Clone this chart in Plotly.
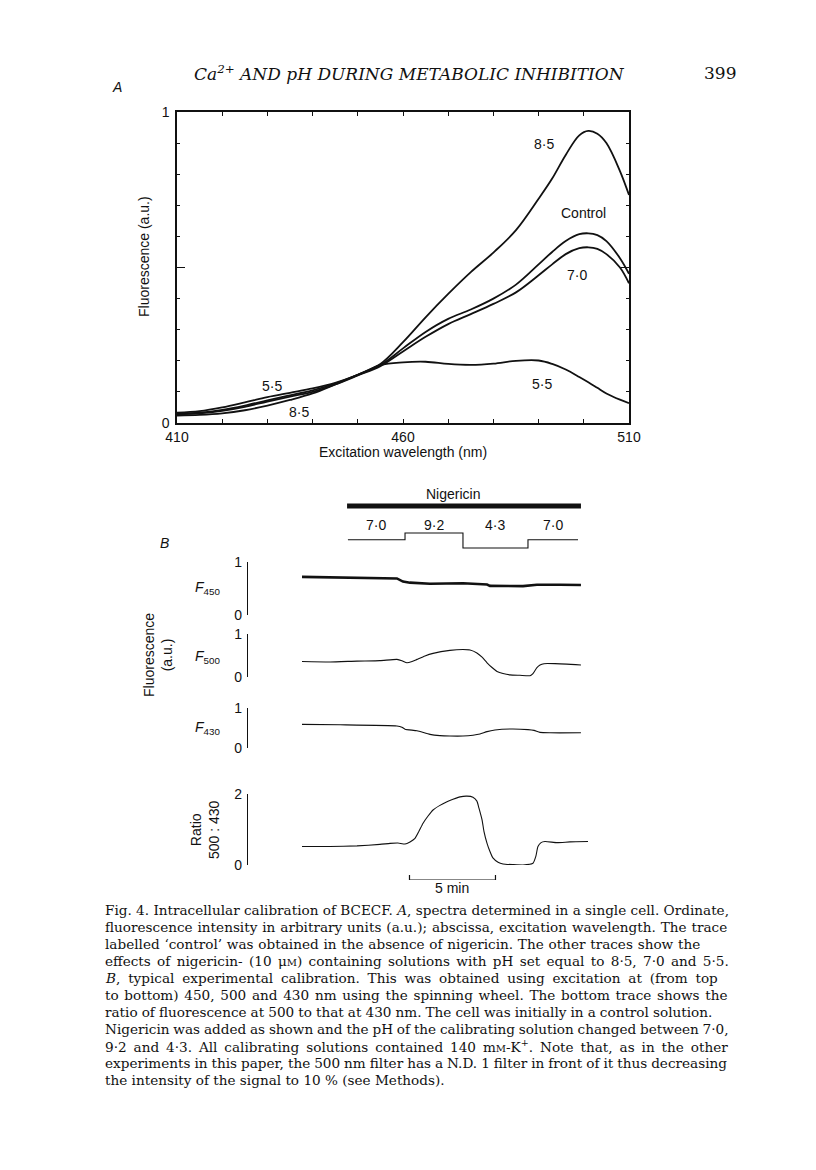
import plotly.graph_objects as go

# page body has an 8px margin, so the figure is 16px smaller than the window
BODY = 8
W, H = 816 - 2 * BODY, 1170 - 2 * BODY
def px(x): return (x - BODY) / W
def py(y): return 1 - (y - BODY) / H

SANS = "Liberation Sans, Arial, sans-serif"
SERIF = "DejaVu Serif, Liberation Serif, serif"
INK = "#111111"

# ---------------- Panel A data: excitation spectra ----------------
wavelength = [410, 415, 420, 425, 430, 435, 440, 445, 450, 455, 460, 465, 470,
              475, 480, 485, 490, 493, 496, 499, 501, 503, 505, 508, 510]
f_ph85 = [0.024, 0.026, 0.031, 0.041, 0.056, 0.074, 0.095, 0.124, 0.155, 0.190,
          0.260, 0.340, 0.415, 0.485, 0.548, 0.620, 0.721, 0.786, 0.862, 0.925,
          0.939, 0.930, 0.900, 0.810, 0.733]
f_control = [0.030, 0.033, 0.042, 0.056, 0.073, 0.089, 0.105, 0.127, 0.155, 0.186,
             0.240, 0.293, 0.335, 0.365, 0.400, 0.445, 0.510, 0.550, 0.585, 0.607,
             0.610, 0.604, 0.585, 0.530, 0.480]
f_ph70 = [0.028, 0.031, 0.039, 0.052, 0.069, 0.085, 0.100, 0.124, 0.153, 0.183,
          0.230, 0.277, 0.318, 0.350, 0.383, 0.420, 0.475, 0.510, 0.543, 0.562,
          0.565, 0.560, 0.543, 0.500, 0.449]
f_ph55 = [0.033, 0.038, 0.050, 0.066, 0.083, 0.097, 0.111, 0.129, 0.155, 0.186,
          0.195, 0.197, 0.190, 0.187, 0.191, 0.200, 0.201, 0.190, 0.172, 0.148,
          0.131, 0.113, 0.095, 0.075, 0.064]

# ---------------- Panel B data: calibration time course (min) ----------------
t_f450 = [0, 1.63, 3.37, 5.52, 5.87, 6.28, 7.44, 9.36, 10.76, 10.93, 12.85, 13.26,
          13.66, 15.0, 16.22]
f450 = [0.72, 0.715, 0.71, 0.69, 0.63, 0.61, 0.59, 0.60, 0.575, 0.55, 0.545, 0.555,
        0.57, 0.57, 0.565]

t_f500 = [0, 1.63, 3.2, 4.53, 5.52, 5.81, 6.1, 6.4, 6.69, 7.15, 7.62, 8.6, 9.36,
          9.77, 10.17, 10.47, 10.76, 11.05, 11.34, 11.69, 12.09, 12.67, 13.26,
          13.43, 13.66, 13.84, 14.07, 14.71, 16.22]
f500 = [0.36, 0.35, 0.37, 0.38, 0.41, 0.38, 0.33, 0.36, 0.41, 0.49, 0.55, 0.62,
        0.64, 0.63, 0.56, 0.46, 0.33, 0.22, 0.13, 0.08, 0.05, 0.04, 0.03, 0.08,
        0.22, 0.28, 0.31, 0.31, 0.28]

t_f430 = [0, 2.21, 5.52, 5.81, 5.99, 6.69, 7.44, 8.02, 8.6, 9.36, 9.94, 10.35,
          10.76, 11.22, 12.09, 13.14, 13.49, 13.84, 14.42, 16.22]
f430 = [0.59, 0.58, 0.55, 0.52, 0.47, 0.43, 0.34, 0.31, 0.30, 0.30, 0.32, 0.35,
        0.41, 0.45, 0.475, 0.46, 0.44, 0.39, 0.38, 0.38]

t_ratio = [0, 1.63, 3.2, 4.53, 5.12, 5.58, 5.99, 6.28, 6.57, 6.8, 7.03, 7.33, 7.62,
           8.02, 8.43, 8.78, 9.19, 9.59, 9.94, 10.17, 10.29, 10.47, 10.58, 10.76,
           10.93, 11.1, 11.4, 11.69, 12.27, 12.85, 13.43, 13.6, 13.72, 13.9, 14.13,
           14.83, 15.58, 16.63]
ratio = [0.52, 0.52, 0.54, 0.58, 0.61, 0.62, 0.59, 0.65, 0.75, 0.95, 1.17, 1.38,
         1.55, 1.68, 1.78, 1.85, 1.92, 1.94, 1.91, 1.80, 1.60, 1.27, 0.95, 0.61,
         0.38, 0.20, 0.08, 0.03, 0.01, 0.0, 0.05, 0.25, 0.52, 0.63, 0.66, 0.63,
         0.65, 0.66]

nigericin_span = [2.62, 16.22]
step_times = [2.67, 5.99, 9.36, 13.14, 16.05]
step_ph = [7.0, 9.2, 4.3, 7.0, 7.0]
step_labels = ["7·0", "9·2", "4·3", "7·0"]
scale_bar_start, scale_bar_len = 6.25, 5.0

fig = go.Figure()

# Panel A traces
for ys in (f_ph85, f_control, f_ph70, f_ph55):
    fig.add_trace(go.Scatter(x=wavelength, y=ys, mode="lines", xaxis="x", yaxis="y",
                             line=dict(color=INK, width=1.8, shape="spline", smoothing=1.0),
                             showlegend=False, hoverinfo="skip"))

# Panel B traces
fig.add_trace(go.Scatter(x=nigericin_span, y=[1, 1], mode="lines", xaxis="x2", yaxis="y7",
                         line=dict(color=INK, width=5), showlegend=False))
fig.add_trace(go.Scatter(x=step_times, y=step_ph, mode="lines", xaxis="x2", yaxis="y2",
                         line=dict(color=INK, width=1.1, shape="hv"), showlegend=False))
fig.add_trace(go.Scatter(x=t_f450, y=f450, mode="lines", xaxis="x2", yaxis="y3",
                         line=dict(color=INK, width=2.6), showlegend=False))
fig.add_trace(go.Scatter(x=t_f500, y=f500, mode="lines", xaxis="x2", yaxis="y4",
                         line=dict(color=INK, width=1.1, shape="spline", smoothing=0.5),
                         showlegend=False))
fig.add_trace(go.Scatter(x=t_f430, y=f430, mode="lines", xaxis="x2", yaxis="y5",
                         line=dict(color=INK, width=1.1, shape="spline", smoothing=0.5),
                         showlegend=False))
fig.add_trace(go.Scatter(x=t_ratio, y=ratio, mode="lines", xaxis="x2", yaxis="y6",
                         line=dict(color=INK, width=1.1, shape="spline", smoothing=0.5),
                         showlegend=False))
sb = [scale_bar_start, scale_bar_start, scale_bar_start + scale_bar_len,
      scale_bar_start + scale_bar_len]
fig.add_trace(go.Scatter(x=sb, y=[1, 0, 0, 1], mode="lines", xaxis="x2", yaxis="y8",
                         line=dict(color=INK, width=1.2), showlegend=False))

tickfont = dict(family=SANS, size=14, color=INK)

def scale_axis(top, bottom, rng, vals):
    return dict(domain=[py(bottom), py(top)], range=rng, anchor="free", position=px(247),
                showline=True, linecolor=INK, linewidth=1.3, ticks="inside", ticklen=5,
                tickwidth=1.3, tickcolor=INK, tickvals=vals, ticktext=[str(v) for v in vals],
                showgrid=False, zeroline=False, tickfont=tickfont, ticklabelstandoff=2,
                automargin=False)

layout = dict(
    template="none",
    width=W, height=H, margin=dict(l=0, r=0, t=0, b=0, pad=0), autosize=False,
    paper_bgcolor="white", plot_bgcolor="rgba(0,0,0,0)", showlegend=False,
    xaxis=dict(domain=[px(177), px(629)], range=[410, 510], anchor="y",
               showline=True, linecolor=INK, linewidth=1.5, mirror="allticks",
               ticks="inside", ticklen=4, tickwidth=1.3, tickcolor=INK,
               tickvals=[410, 460, 510], tickfont=dict(family=SANS, size=14, color=INK),
               minor=dict(dtick=10, tick0=410, ticks="inside", ticklen=4, tickwidth=1.3,
                          tickcolor=INK, showgrid=False),
               showgrid=False, zeroline=False, automargin=False),
    yaxis=dict(domain=[py(423), py(112)], range=[0, 1], anchor="x",
               showline=True, linecolor=INK, linewidth=1.5, mirror="allticks",
               ticks="inside", ticklen=3, tickwidth=1.3, tickcolor=INK,
               tickvals=[0, 1], tickfont=dict(family=SANS, size=14, color=INK),
               ticklabelstandoff=3,
               minor=dict(dtick=0.1, tick0=0, ticks="inside", ticklen=3, tickwidth=1.3,
                          tickcolor=INK, showgrid=False),
               showgrid=False, zeroline=False, automargin=False),
    yaxis9=dict(domain=[py(423), py(112)], range=[0, 1], anchor="x", overlaying="y",
                showline=False, mirror="ticks", ticks="inside", ticklen=8, tickwidth=1.3,
                tickcolor=INK, tickvals=[0.5], showticklabels=False, showgrid=False,
                zeroline=False, automargin=False),
    xaxis2=dict(domain=[px(302), px(588)], range=[0, 16.63], anchor="y3", visible=False,
                automargin=False),
    yaxis2=dict(domain=[py(555), py(530)], range=[2.0, 10.18], anchor="x2", visible=False),
    yaxis3=scale_axis(562, 615, [0, 1], [0, 1]),
    yaxis4=scale_axis(634, 677, [0, 1], [0, 1]),
    yaxis5=scale_axis(708, 748, [0, 1], [0, 1]),
    yaxis6=scale_axis(794, 865, [0, 2], [0, 2]),
    yaxis7=dict(domain=[py(511), py(501)], range=[0, 2], anchor="x2", visible=False),
    yaxis8=dict(domain=[py(880), py(875)], range=[0, 1], anchor="x2", visible=False),
)
fig.update_layout(**layout)
# invisible helper trace so the overlay axis carrying the long mid tick is drawn
fig.add_trace(go.Scatter(x=[410], y=[0.5], xaxis="x", yaxis="y9", mode="markers",
                         marker=dict(size=0.1, opacity=0), showlegend=False, hoverinfo="skip"))

ann = []
def text(x, y, s, size=14, family=SANS, angle=0, xanchor="center", color=INK):
    ann.append(dict(x=px(x), y=py(y), xref="paper", yref="paper", text=s, showarrow=False,
                    font=dict(family=family, size=size, color=color), textangle=angle,
                    xanchor=xanchor, yanchor="middle"))

# Header
text(409, 73, "<i>Ca<sup>2+</sup> AND pH DURING METABOLIC INHIBITION</i>", size=17, family=SERIF)
text(720, 73, "399", size=17, family=SERIF)

# Panel A labels
text(117, 87, "<i>A</i>")
text(144, 257, "Fluorescence (a.u.)", angle=-90)
text(403, 452, "Excitation wavelength (nm)")
text(544, 144, "8·5")
text(583, 213, "Control")
text(577, 275, "7·0")
text(542, 384, "5·5")
text(272, 386, "5·5")
text(299, 412, "8·5")

# Panel B labels
text(453, 494, "Nigericin")
for i, lab in enumerate(step_labels):
    mid = 0.5 * (step_times[i] + step_times[i + 1])
    ann.append(dict(x=mid, y=py(525), xref="x2", yref="paper", text=lab, showarrow=False,
                    font=dict(family=SANS, size=14, color=INK), xanchor="center",
                    yanchor="middle"))
text(164, 543, "<i>B</i>")
text(207, 588, "<i>F</i><sub>450</sub>")
text(207, 657, "<i>F</i><sub>500</sub>")
text(207, 728, "<i>F</i><sub>430</sub>")
text(158, 655, "Fluorescence<br>(a.u.)", angle=-90)
text(205, 830, "Ratio<br>500 : 430", angle=-90)
ann.append(dict(x=scale_bar_start + scale_bar_len / 2, y=py(888), xref="x2", yref="paper",
                text="5 min", showarrow=False, font=dict(family=SANS, size=14, color=INK),
                xanchor="center", yanchor="middle"))

# Caption (justified by adjusting word spacing per line)
SM = "<span style='font-size:10px'>"
caption = [
    "Fig. 4. Intracellular calibration of BCECF. <i>A</i>, spectra determined in a single cell. Ordinate,",
    "fluorescence intensity in arbitrary units (a.u.); abscissa, excitation wavelength. The trace",
    "labelled ‘control’ was obtained in the absence of nigericin. The other traces show the",
    "effects of nigericin- (10 μ" + SM + "M</span>) containing solutions with pH set equal to 8·5, 7·0 and 5·5.",
    "<i>B</i>, typical experimental calibration. This was obtained using excitation at (from top",
    "to bottom) 450, 500 and 430 nm using the spinning wheel. The bottom trace shows the",
    "ratio of fluorescence at 500 to that at 430 nm. The cell was initially in a control solution.",
    "Nigericin was added as shown and the pH of the calibrating solution changed between 7·0,",
    "9·2 and 4·3. All calibrating solutions contained 140 m" + SM + "M</span>-K<sup>+</sup>. Note that, as in the other",
    "experiments in this paper, the 500 nm filter has a N.D. 1 filter in front of it thus decreasing",
    "the intensity of the signal to 10 % (see Methods).",
]
word_spacing = [0, 0.6, 0.45, 2.0, 3.5, 1.4, -0.25, -0.5, 2.6, -0.33, 0]
for i, line in enumerate(caption):
    styled = "<span style='word-spacing:%.2fpx'>%s</span>" % (word_spacing[i], line)
    text(103, 910 + 17 * i, styled, size=13.6, family=SERIF, xanchor="left")

fig.update_layout(annotations=ann)
fig.write_html("out.html")
